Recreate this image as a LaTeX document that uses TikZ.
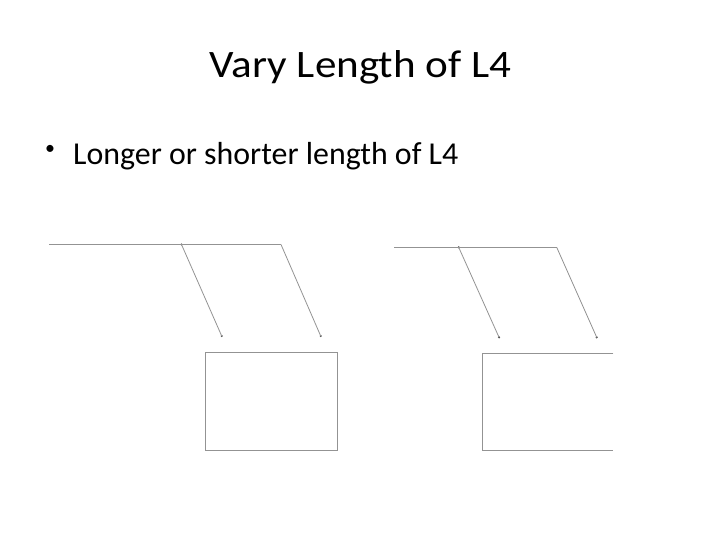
\documentclass[tikz,border=0pt]{standalone}
\usepackage{fontspec}
\setmainfont{Carlito}
\begin{document}
\begin{tikzpicture}[x=1bp,y=-1bp,
  link/.style={draw=gray!85, line width=0.8bp},
  pin/.style={circle, fill=gray!60!black, inner sep=0pt, minimum size=2.4bp},
  lbl/.style={inner sep=0pt, anchor=base west}]
\useasboundingbox (0,0) rectangle (720,540);
% texts
\node[inner sep=0pt, anchor=base, font=\fontsize{39}{44}\selectfont] (title) at (360.5,77.7) {\scalebox{1.11}[1]{Vary Length of L4}};
\node[inner sep=0pt, anchor=center, font=\fontsize{20}{24}\selectfont] (bul) at (50,149.5) {•};
\node[lbl, font=\fontsize{32}{38}\selectfont] (item) at (73,165) {Longer or shorter length of L4};
% left mechanism
\coordinate (a0) at (49,244.5);
\node[pin] (a1) at (181.5,244.5) {};
\coordinate (a2) at (281,244.5);
\node[pin] (a3) at (221.7,336) {};
\node[pin] (a4) at (320.7,336) {};
\draw[link] (a0) -- (a1.center) -- (a2);
\draw[link] (a1.center) -- (a3.center);
\draw[link] (a2) -- (a4.center);
\coordinate (b1) at (205.7,352.3);
\coordinate (b2) at (337.3,352.3);
\coordinate (b3) at (337.3,450.7);
\coordinate (b4) at (205.7,450.7);
\draw[link] (b1) -- (b2) -- (b3) -- (b4) -- cycle;
% right mechanism
\coordinate (c0) at (394,247.3);
\node[pin] (c1) at (458.7,247.3) {};
\coordinate (c2) at (556.7,247.3);
\node[pin] (c3) at (499,337.3) {};
\node[pin] (c4) at (596.7,337.3) {};
\draw[link] (c0) -- (c1.center) -- (c2);
\draw[link] (c1.center) -- (c3.center);
\draw[link] (c2) -- (c4.center);
\coordinate (d1) at (613.3,353.3);
\coordinate (d2) at (482.3,353.3);
\coordinate (d3) at (482.3,450.7);
\coordinate (d4) at (613.3,450.7);
\draw[link] (d1) -- (d2) -- (d3) -- (d4);
\end{tikzpicture}
\end{document}
